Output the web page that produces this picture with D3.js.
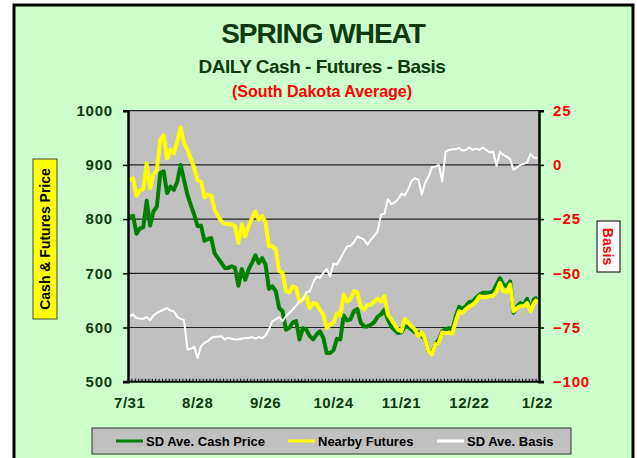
<!DOCTYPE html>
<html><head><meta charset="utf-8">
<script src="https://cdn.jsdelivr.net/npm/d3@7"></script>
<style>
html,body{margin:0;padding:0;background:#fff;}
svg{display:block;font-family:"Liberation Sans",Arial,sans-serif;}
</style></head>
<body>
<svg id="chart" width="637" height="458"></svg>
<script>
// ---- data ----
const tickLabels = ["7/31","8/28","9/26","10/24","11/21","12/22","1/22"];
const tickIndex = [0,20,40,60,80,100,120];
const cashPrice = [
804,806,773,783,785,834,788,814,823,885,888,848,860,854,869,900,872,845,826,808,787,788,760,763,765,737,728,719,710,710,
713,710,677,708,688,707,719,733,719,728,716,671,676,667,636,630,596,599,609,612,578,599,596,584,578,587,593,581,553,553,
558,579,578,622,613,615,630,634,609,602,602,605,610,620,624,633,615,602,595,590,591,602,601,596,591,591,584,578,556,552,
569,578,593,596,599,596,621,638,634,640,647,648,655,661,664,664,664,667,679,691,679,676,685,627,639,645,642,653,633,652,656];
const futures = [
872,875,843,853,855,903,857,882,891,946,955,912,928,921,943,969,940,928,912,894,872,869,840,845,843,817,806,796,791,791,
790,787,756,790,768,787,802,814,799,806,793,750,750,744,704,701,667,665,676,673,647,652,658,636,645,644,633,624,599,605,
609,626,622,661,648,652,667,665,639,633,642,642,648,653,648,658,624,615,605,596,593,616,609,602,596,584,591,578,556,550,
569,572,591,590,590,589,612,630,627,634,639,642,648,658,656,656,658,658,667,682,667,665,679,630,636,639,639,645,630,645,652];
const basis = [
-69.8,-69.0,-70.6,-71.0,-71.0,-70.1,-71.6,-69.5,-68.3,-67.5,-66.7,-66.0,-67.2,-67.5,-70.1,-71.0,-71.6,-85.1,-84.8,-83.9,-89.0,-83.6,-82.1,-81.3,-79.8,-79.3,-79.3,-79.0,-80.5,-79.8,
-80.2,-80.5,-80.5,-80.1,-79.9,-79.9,-79.4,-80.1,-79.4,-79.9,-78.7,-75.9,-72.1,-71.3,-70.1,-72.1,-69.8,-68.3,-66.7,-64.9,-62.9,-62.1,-58.7,-58.3,-54.4,-51.4,-52.1,-49.8,-48.0,-51.4,
-45.6,-46.0,-43.4,-40.3,-37.6,-37.3,-35.7,-33.0,-33.7,-34.5,-36.8,-34.5,-32.7,-30.7,-23.0,-22.5,-15.8,-18.1,-17.3,-15.8,-13.3,-14.0,-11.2,-7.4,-6.1,-6.9,-13.8,-8.1,-5.4,-1.1,
-0.8,0,-7.7,6.1,6.9,7.2,7.2,7.8,6.6,6.9,8.0,6.9,7.5,6.9,8.0,6.9,5.7,6.1,-0.5,6.0,4.6,3.8,2.6,-2.3,-1.2,0,0.5,1.2,5.1,3.4,3.1];
const leftTicks = [500,600,700,800,900,1000];
const rightTicks = [-100,-75,-50,-25,0,25];
const seriesNames = ["SD Ave. Cash Price","Nearby Futures","SD Ave. Basis"];

// ---- layout ----
const svg = d3.select("#chart");
const L = 128, R = 539, T = 110.7, B = 381.7;
const dark = "#0d3b0d";

// frame
svg.append("rect").attr("x",14).attr("y",5).attr("width",619).attr("height",460)
  .attr("fill","#ccffcc").attr("stroke","#000").attr("stroke-width",3);

// titles
svg.append("text").attr("x",323).attr("y",43).attr("text-anchor","middle")
  .attr("font-size",28).attr("font-weight","bold").attr("letter-spacing","-1px").attr("fill",dark)
  .text("SPRING WHEAT");
svg.append("text").attr("x",322).attr("y",73).attr("text-anchor","middle")
  .attr("font-size",19).attr("font-weight","bold").attr("letter-spacing","-0.5px").attr("fill",dark)
  .text("DAILY Cash - Futures - Basis");
svg.append("text").attr("x",322).attr("y",97).attr("text-anchor","middle")
  .attr("font-size",16).attr("font-weight","bold").attr("fill","#ff0000")
  .text("(South Dakota Average)");

// scales
const idx = d3.range(cashPrice.length);
const x = d3.scaleBand().domain(idx).range([L,R]).padding(0);
const xc = i => x(i) + x.bandwidth()/2;
const xEdge = d3.scaleLinear().domain([0,idx.length]).range([L,R]);
const yL = d3.scaleLinear().domain([500,1000]).range([B,T]);
const yR = d3.scaleLinear().domain([-100,25]).range([B,T]);

// plot area
svg.append("rect").attr("x",L).attr("y",T).attr("width",R-L).attr("height",B-T).attr("fill","#c0c0c0");
svg.append("g").selectAll("line").data(leftTicks.filter(v=>v>500)).join("line")
  .attr("x1",L).attr("x2",R).attr("y1",d=>yL(d)).attr("y2",d=>yL(d))
  .attr("stroke","#222").attr("stroke-width",1.2);

// minor ticks at bottom
const gMinor = svg.append("g").attr("transform",`translate(0,${B})`)
  .call(d3.axisBottom(xEdge).tickValues(d3.range(idx.length+1)).tickSizeInner(-3).tickSizeOuter(0).tickFormat(""));
gMinor.select(".domain").remove();
gMinor.selectAll("line").attr("stroke","#000").attr("stroke-width",1);

// lines
const lineL = d3.line().x((d,i)=>xc(i)).y(d=>yL(d));
const lineR = d3.line().x((d,i)=>xc(i)).y(d=>yR(d));
svg.append("path").datum(cashPrice).attr("d",lineL).attr("fill","none")
  .attr("stroke","#008000").attr("stroke-width",4).attr("stroke-linejoin","round");
svg.append("path").datum(futures).attr("d",lineL).attr("fill","none")
  .attr("stroke","#ffff00").attr("stroke-width",4).attr("stroke-linejoin","round");
svg.append("path").datum(basis).attr("d",lineR).attr("fill","none")
  .attr("stroke","#ffffff").attr("stroke-width",2).attr("stroke-linejoin","round");

// axes
const gL = svg.append("g").attr("transform",`translate(${L},0)`)
  .call(d3.axisLeft(yL).tickValues(leftTicks).tickSize(5).tickPadding(10).tickFormat(d3.format("d")));
gL.select(".domain").attr("stroke","#000").attr("stroke-width",2.5);
gL.selectAll("line").attr("stroke","#000").attr("stroke-width",1.5);
gL.selectAll("text").attr("font-size",15).attr("font-weight","bold").attr("fill",dark)
  .attr("letter-spacing","0.8px").attr("font-family","Liberation Sans, Arial, sans-serif");

const gR = svg.append("g").attr("transform",`translate(${R},0)`)
  .call(d3.axisRight(yR).tickValues(rightTicks).tickSize(5).tickPadding(9).tickFormat(d3.format("d")));
gR.select(".domain").attr("stroke","#000").attr("stroke-width",2.5);
gR.selectAll("line").attr("stroke","#000").attr("stroke-width",1.5);
gR.selectAll("text").attr("font-size",15).attr("font-weight","bold").attr("fill","#ff0000")
  .attr("letter-spacing","0.8px").attr("font-family","Liberation Sans, Arial, sans-serif");

const gB = svg.append("g").attr("transform",`translate(0,${B})`)
  .call(d3.axisBottom(x).tickValues(tickIndex).tickSize(0).tickPadding(16)
    .tickFormat(d=>tickLabels[tickIndex.indexOf(d)]));
gB.select(".domain").remove();
gB.selectAll("text").attr("font-size",15).attr("font-weight","bold").attr("fill",dark)
  .attr("letter-spacing","0.5px").attr("font-family","Liberation Sans, Arial, sans-serif");
svg.append("line").attr("x1",L-5).attr("x2",R+5).attr("y1",B).attr("y2",B)
  .attr("stroke","#000").attr("stroke-width",2);

// axis titles
svg.append("rect").attr("x",33).attr("y",159).attr("width",24).attr("height",160)
  .attr("fill","#ffff00").attr("stroke","#444").attr("stroke-width",1);
svg.append("text").attr("transform","translate(50,239) rotate(-90)").attr("text-anchor","middle")
  .attr("font-size",14).attr("font-weight","bold").attr("fill","#000").text("Cash & Futures Price");
svg.append("rect").attr("x",597).attr("y",221).attr("width",23).attr("height",51)
  .attr("fill","#ffffff").attr("stroke","#000").attr("stroke-width",1);
svg.append("text").attr("transform","translate(603,246.5) rotate(90)").attr("text-anchor","middle")
  .attr("font-size",14).attr("font-weight","bold").attr("fill","#ff0000").text("Basis");

// legend
const lg = svg.append("g");
lg.append("rect").attr("x",92).attr("y",428).attr("width",479).attr("height",26)
  .attr("fill","#c0c0c0").attr("stroke","#333").attr("stroke-width",1);
const legItems = [
  {name:seriesNames[0], color:"#008000", x:116},
  {name:seriesNames[1], color:"#ffff00", x:288},
  {name:seriesNames[2], color:"#ffffff", x:437}
];
legItems.forEach(it=>{
  lg.append("line").attr("x1",it.x).attr("x2",it.x+27).attr("y1",441).attr("y2",441)
    .attr("stroke",it.color).attr("stroke-width",3);
  lg.append("text").attr("x",it.x+30).attr("y",446).attr("font-size",13).attr("font-weight","bold")
    .attr("fill","#000").text(it.name);
});
</script>
</body></html>
